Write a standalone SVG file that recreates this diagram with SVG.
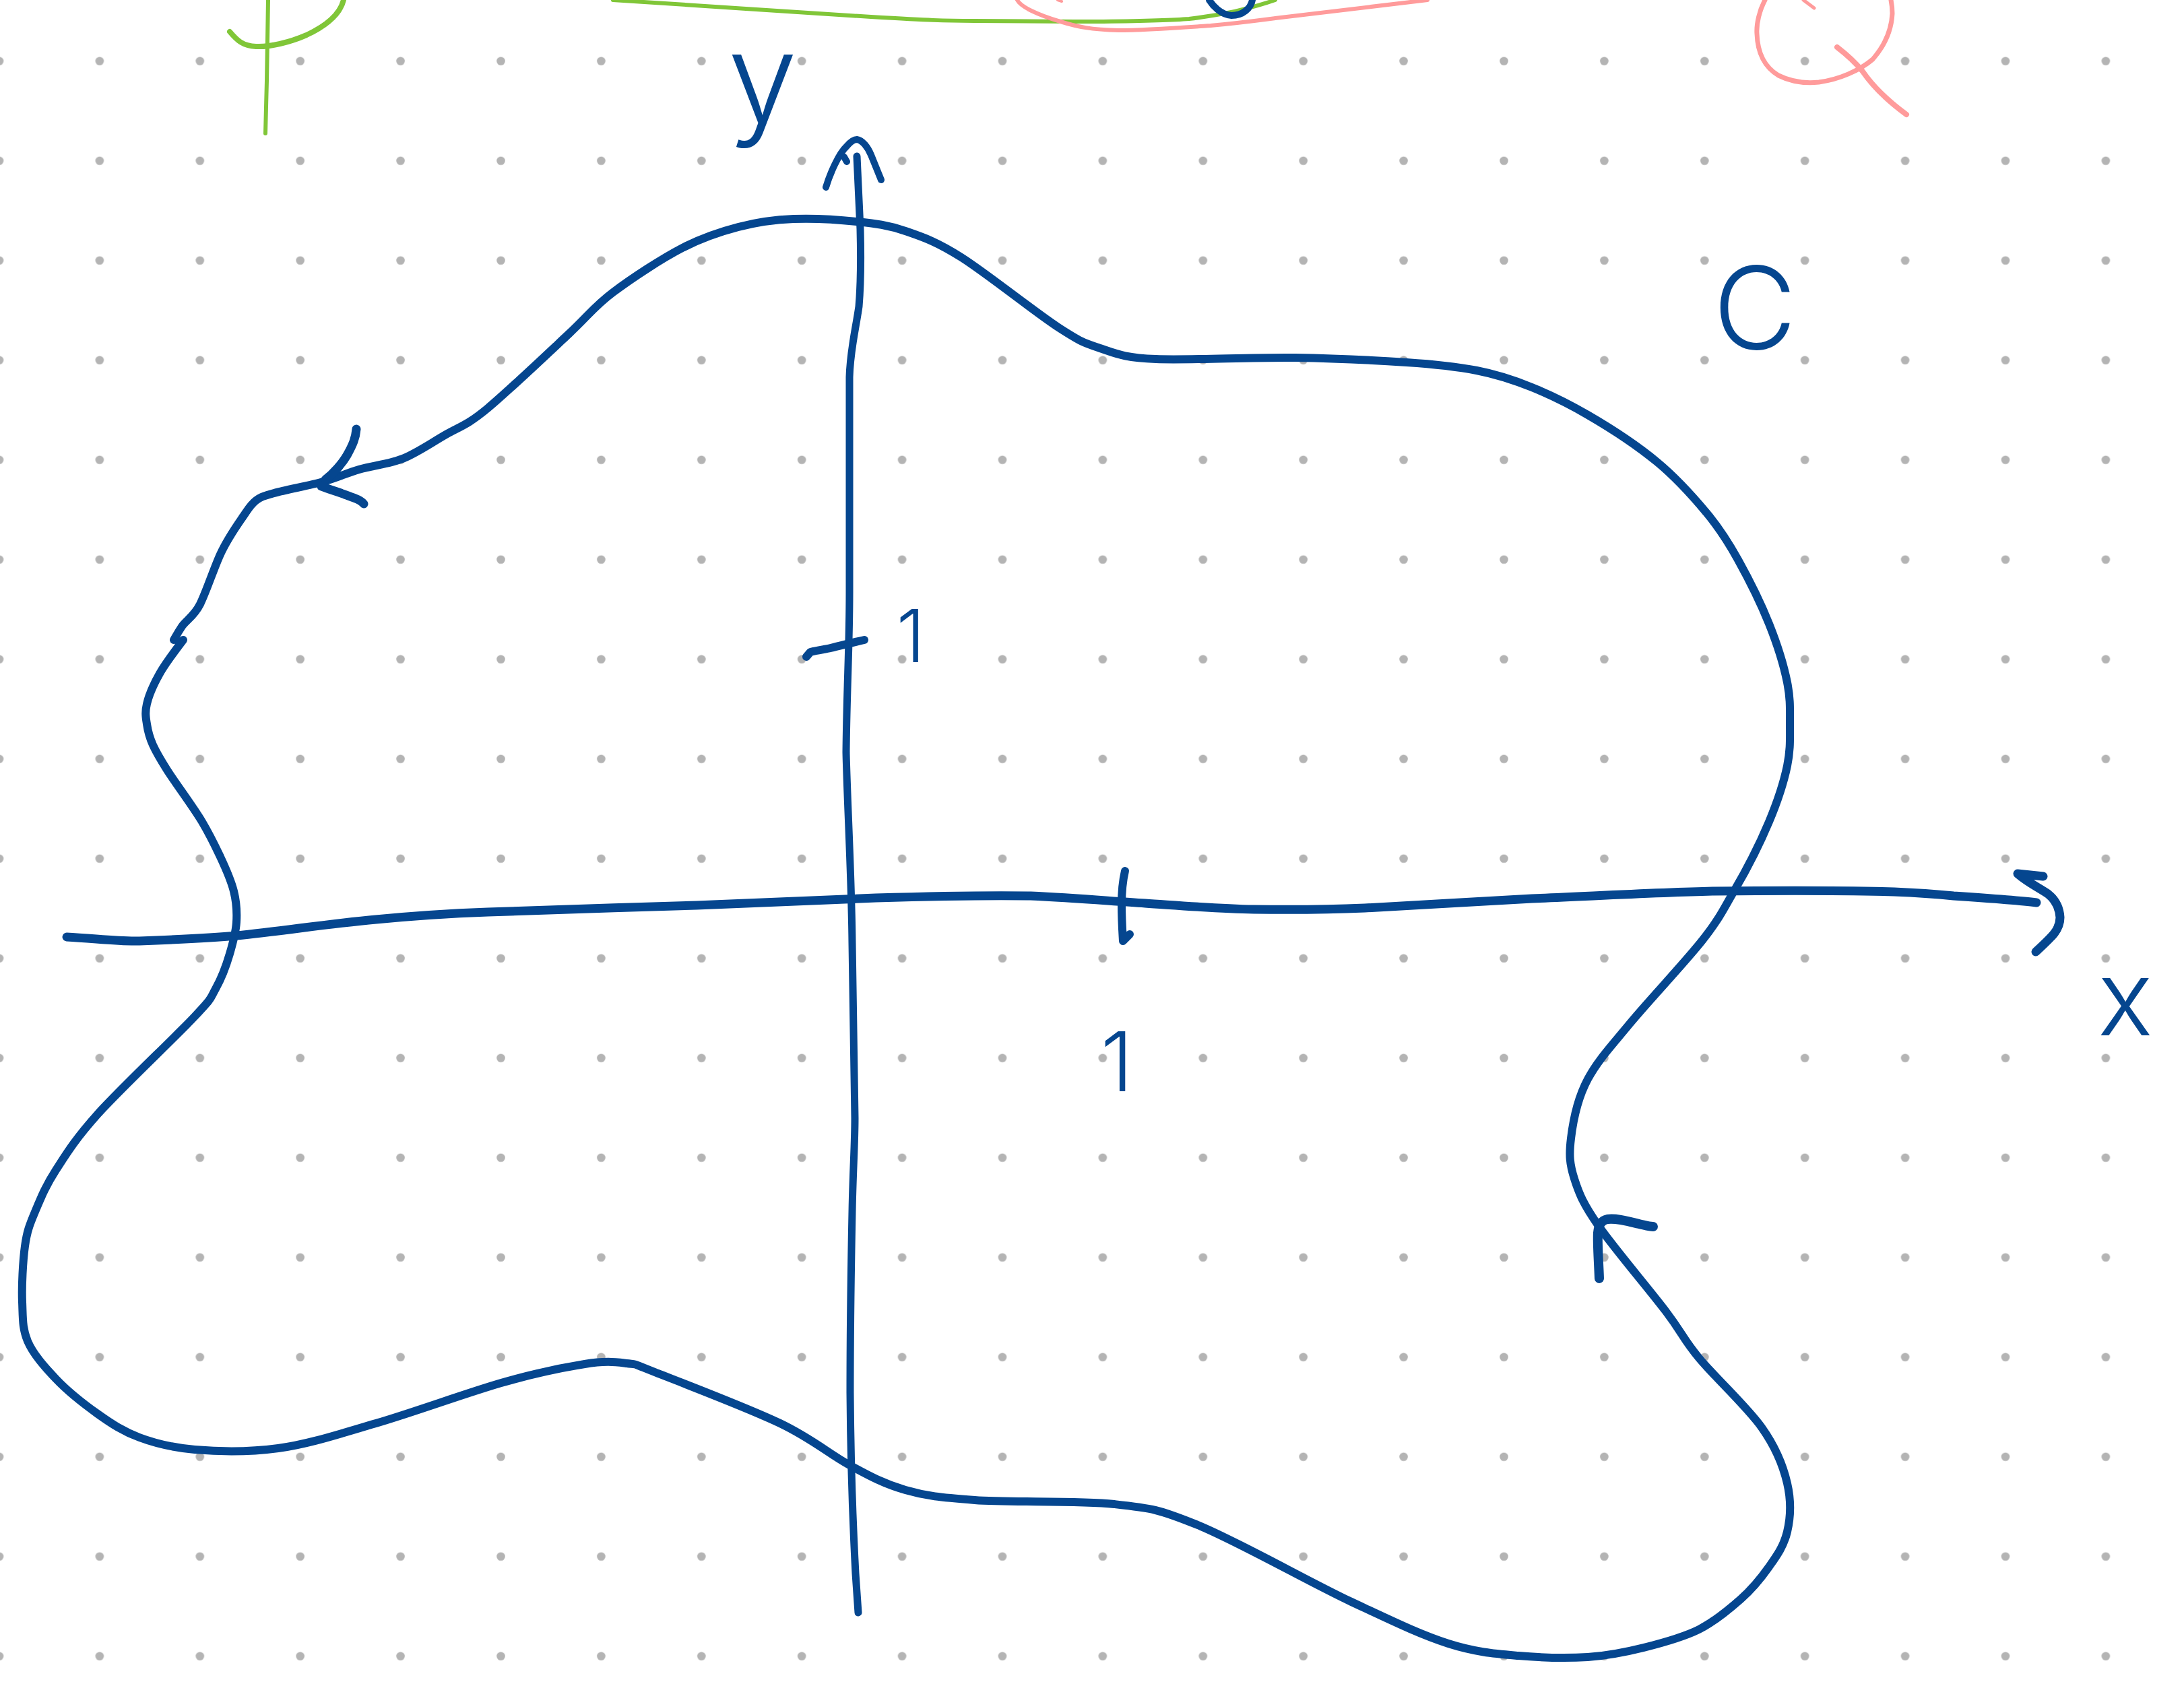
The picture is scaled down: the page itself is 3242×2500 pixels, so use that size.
<svg xmlns="http://www.w3.org/2000/svg" width="3242" height="2500" viewBox="0 0 3242 2500">
<style>
.ink{fill:none;stroke:#05468f;stroke-linecap:round;stroke-linejoin:round}
.green{fill:none;stroke:#80c638;stroke-linecap:round;stroke-linejoin:round}
.pink{fill:none;stroke:#ff9b9b;stroke-linecap:round;stroke-linejoin:round}
.lbl{fill:#05468f;font-family:Inter,"Liberation Sans",sans-serif;font-weight:300;text-anchor:middle}
</style>
<defs>
<pattern id="dots" x="-75.45" y="16.7" width="148.9" height="148" patternUnits="userSpaceOnUse">
<circle cx="74.45" cy="74" r="6.3" fill="#b4b4b4"/>
</pattern>
</defs>
<rect width="3242" height="2500" fill="#ffffff"/>
<rect id="grid" width="3242" height="2500" fill="url(#dots)"/>

<g id="top-fragments">
<path class="green" stroke-width="6" d="M398,0 L397,60 L396,120 L394,198"/>
<path class="green" stroke-width="8" d="M341,47 C352,60 360,68 380,69 C400,70 430,63 455,52 C485,38 505,20 510,0"/>
<path class="green" stroke-width="6" d="M910,0 C1000,5 1200,20 1293,25 C1380,30 1400,31 1446,31 C1550,32 1580,32 1638,32 C1700,31 1740,30 1765,28 C1800,24 1850,15 1893,0"/>
<path class="ink" stroke-width="10" d="M1795,0 C1800,8 1812,22 1828,23 C1845,23 1857,12 1859,0"/>
<path class="pink" stroke-width="6" d="M1510,0 C1515,10 1540,22 1574,32 C1600,40 1620,44 1660,45 C1700,45 1740,42 1797,38 C1840,34 1870,30 1893,27 C1950,20 2030,10 2119,0"/>
<path class="pink" stroke-width="4" d="M1570,0 L1576,2"/>
<path class="pink" stroke-width="7" d="M2620,0 C2612,15 2607,35 2608,50 C2609,80 2620,100 2640,112 C2660,122 2680,124 2700,122 C2730,118 2760,105 2780,88 C2800,65 2808,40 2809,20 C2809,10 2808,5 2807,0"/>
<path class="pink" stroke-width="8" d="M2727,70 C2740,80 2752,90 2765,106 C2780,128 2800,148 2830,170"/>
<path class="pink" stroke-width="5" d="M2677,0 L2693,12"/>
</g>

<g id="axes">
<path id="x-axis" class="ink" stroke-width="13" d="M99,1391 C140,1393 175,1398 207,1397 C260,1395 310,1393 351,1389 C420,1382 490,1371 558,1365 C620,1359 670,1356 724,1354 C830,1350 930,1347 1034,1344 C1100,1341 1180,1338 1300,1333 C1400,1330 1470,1329 1530,1330 C1600,1333 1650,1338 1700,1341 C1760,1345 1810,1349 1861,1350 C1930,1351 1980,1350 2026,1348 C2110,1344 2190,1338 2274,1334 C2370,1330 2460,1325 2543,1323 C2640,1322 2740,1322 2812,1324 C2860,1326 2880,1328 2900,1330 C2960,1334 3000,1337 3023,1340"/>
<path id="x-arrow" class="ink" stroke-width="13" d="M3033,1301 L2995,1297 C3010,1310 3025,1317 3040,1327 C3050,1335 3057,1345 3058,1362 C3058,1380 3047,1390 3022,1413"/>
<path id="y-axis" class="ink" stroke-width="11" d="M1274,2394 L1270,2336 C1267,2280 1263,2200 1262,2068 C1262,1950 1264,1850 1265,1799 C1266,1740 1269,1700 1269,1660 C1268,1600 1266,1500 1265,1400 C1264,1300 1258,1200 1256,1117 C1257,1020 1261,960 1261,880 C1261,750 1261,640 1261,560 C1262,520 1270,490 1275,455 C1278,420 1278,380 1277,340 C1275,300 1273,260 1272,232"/>
<path id="y-arrow" class="ink" stroke-width="10" d="M1226,278 C1232,258 1245,228 1257,217 C1263,210 1267,207 1272,207 C1280,208 1288,218 1293,230 L1308,267 M1253,233 L1257,240"/>
<path id="x-tick" class="ink" stroke-width="12" d="M1670,1293 C1666,1310 1665,1330 1665,1343 C1665,1365 1666,1380 1667,1397 L1677,1387"/>
<path id="y-tick" class="ink" stroke-width="12" d="M1197,975 L1203,968 C1215,965 1225,964 1233,962 C1250,958 1265,954 1283,950"/>
</g>

<g id="curve-C">
<path class="ink" stroke-width="12" d="M272,950 S246,984 237,1000 S221,1032 218,1045 S216.5,1065 218,1075 S222,1095 227,1106 S236,1124 248,1143 S287,1198 300,1220 S319,1255 327,1272 S343,1307 347,1323 S352,1353 351,1369 S346,1399 341,1416 S329,1452 320,1468 S318,1478 289,1509 S179,1616 145,1654 S98.5,1713 83,1737 S60,1780 52,1799 S40,1828 37,1850 S32,1909 33,1933 S33,1972 41,1991 S66,2029 83,2047 S124,2084 145,2099 S183,2125 207,2134 S255,2149 289,2152 S368,2156 413,2150 S503,2129 558,2113 S692,2068 744,2053 S837,2030 868,2025 S913,2022 930,2024 S934,2022 972,2037 S1110,2090 1158,2113 S1230,2158 1261,2175 S1313,2203 1344,2212 S1395,2223 1447,2227 S1599,2227 1654,2233 S1719,2240 1778,2264 S1944,2349 2006,2378 S2109,2427 2150,2440 S2219,2455 2254,2458 S2326,2462 2357,2460 S2412,2453 2440,2446 S2498,2431 2522,2419 S2567,2389 2584,2374 S2614,2343 2626,2326 S2648,2295 2653,2274 S2659,2228 2653,2202 S2637,2150 2615,2119 S2546,2045 2522,2016 S2498,1980 2473,1947 S2396,1853 2373,1820 S2344,1772 2337,1750 S2329,1715 2332,1690 S2342,1630 2357,1602 S2391,1554 2419,1520 S2501,1429 2527,1396 S2557,1352 2574,1323 S2613,1251 2626,1220 S2648,1161 2653,1137 S2657,1096 2657,1075 S2658,1038 2653,1013 S2638,956 2626,926 S2595,858 2580,831 S2553,785 2533,761 S2489,710 2460,686 S2388,634 2357,616 S2301,586 2274,575 S2223,556 2192,550 S2133,541 2088,538 S1985,532 1923,531 S1764,535 1716,533 S1657,525 1633,517 S1605,508 1571,486 S1465,406 1427,382 S1370,352 1344,343 S1300,332 1272,329 S1207,324 1178,325 S1123,330 1096,337 S1044,352 1013,368 S938,413 910,434 S875,467 844,496 S754,581 724,606 S683,633 662,645 S621,671 600,680 S553,691 533,697 S501,709 480,715 S424,727 407,732 S388,737 380,743 S369,755 360,768 S337,801 327,823 S306,879 297,897 S276,921 270,930 S262,943 258,950"/>
<path id="arrow-upper" class="ink" stroke-width="13" d="M529,637 C528,650 524,660 515,676 C508,688 495,703 483,712 M477,722 C490,727 510,733 525,739 C533,742 538,745 540,748"/>
<path id="arrow-lower" class="ink" stroke-width="14" d="M2374,1898 C2373,1870 2371,1845 2372,1830 C2373,1818 2377,1812 2386,1810 C2400,1808 2420,1814 2433,1817 C2442,1819 2448,1821 2454,1821"/>
</g>

<g id="labels">
<text class="lbl" x="1132" y="182" font-size="185">y</text>
<text class="lbl" x="2605" y="518" font-size="170">C</text>
<text class="lbl" x="3155" y="1537" font-size="155">x</text>
<text class="lbl" x="1352" y="983" font-size="108">1</text>
<text class="lbl" x="1658" y="1620" font-size="122">1</text>
</g>
</svg>
